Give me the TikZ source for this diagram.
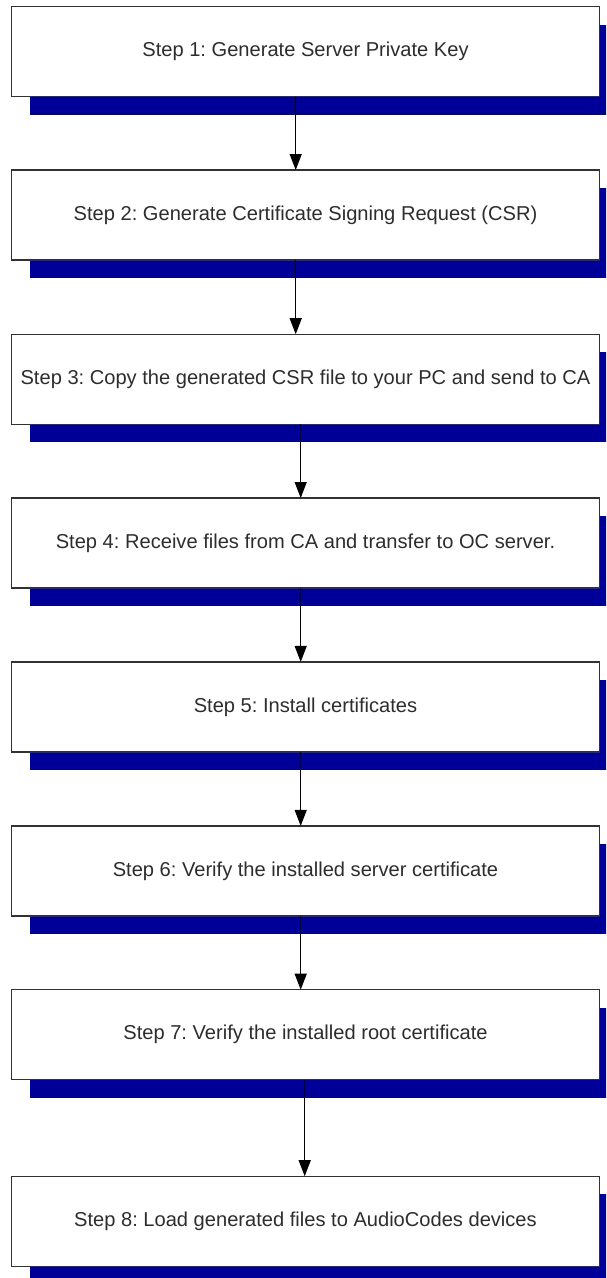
\documentclass[tikz,border=0pt]{standalone}
\usepackage{fontspec}
\setmainfont{Liberation Sans}
\usetikzlibrary{shadows,arrows.meta,calc}
\definecolor{shadowblue}{RGB}{0,0,153}
\definecolor{boxline}{RGB}{50,50,50}
\definecolor{txt}{RGB}{45,45,45}
\tikzset{
  stepbox/.style={draw=boxline, line width=1.4pt, fill=white, rectangle,
    minimum width=588pt, minimum height=90pt, inner sep=0pt, outer sep=0pt,
    text=txt, font=\fontsize{20.1}{24}\selectfont\frenchspacing,
    general shadow={shadow xshift=18pt, shadow yshift=-18pt, fill=shadowblue}},
  flow/.style={draw=black, line width=1.2pt, -{Triangle[length=16pt,width=12pt]}}
}
\begin{document}
\begin{tikzpicture}[x=1pt,y=-1pt]
\useasboundingbox (0,0) rectangle (606,1278);
\clip (0,0) rectangle (606,1278);
\node[stepbox] (b1) at (305.5,51.7)  {Step 1: Generate Server Private Key};
\node[stepbox] (b2) at (305.5,215)   {Step 2: Generate Certificate Signing Request (CSR)};
\node[stepbox] (b3) at (305.5,379.2) {Step 3: Copy the generated CSR file to your PC and send to CA};
\node[stepbox] (b4) at (305.5,543)   {Step 4: Receive files from CA and transfer to OC server.};
\node[stepbox] (b5) at (305.5,706.9) {Step 5: Install certificates};
\node[stepbox] (b6) at (305.5,870.9) {Step 6: Verify the installed server certificate};
\node[stepbox] (b7) at (305.5,1034.7) {Step 7: Verify the installed root certificate};
\node[stepbox] (b8) at (305.5,1221.2) {Step 8: Load generated files to AudioCodes devices};
\draw[flow] ([xshift=-9.8pt]b1.south) -- ([xshift=-9.8pt]b2.north);
\draw[flow] ([xshift=-9.8pt]b2.south) -- ([xshift=-9.8pt]b3.north);
\draw[flow] ([xshift=-4.8pt]b3.south) -- ([xshift=-4.8pt]b4.north);
\draw[flow] ([xshift=-4.8pt]b4.south) -- ([xshift=-4.8pt]b5.north);
\draw[flow] ([xshift=-4.8pt]b5.south) -- ([xshift=-4.8pt]b6.north);
\draw[flow] ([xshift=-4.8pt]b6.south) -- ([xshift=-4.8pt]b7.north);
\draw[flow] ([xshift=-0.8pt]b7.south) -- ([xshift=-0.8pt]b8.north);
\end{tikzpicture}
\end{document}
